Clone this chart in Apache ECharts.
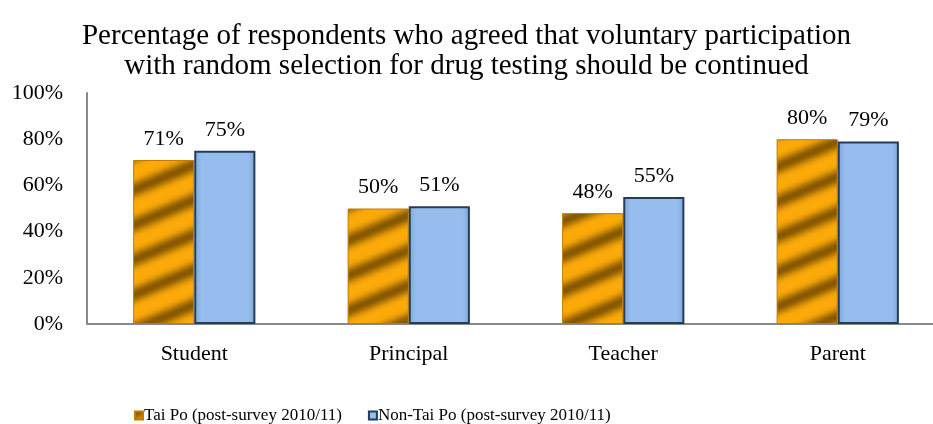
<!DOCTYPE html>
<html>
<head>
<meta charset="utf-8">
<script src="https://cdn.jsdelivr.net/npm/echarts@6/dist/echarts.min.js"></script>
<style>html,body{margin:0;padding:0;background:#fff}#c{width:933px;height:424px}</style>
</head>
<body>
<div id="c"></div>
<script>
const titleLines = ['Percentage of respondents who agreed that voluntary participation', 'with random selection for drug testing should be continued'];
const categories = ['Student', 'Principal', 'Teacher', 'Parent'];
const seriesNames = ['Tai Po (post-survey 2010/11)', 'Non-Tai Po (post-survey 2010/11)'];
const taiPo = [71, 50, 48, 80];
const nonTaiPo = [75, 51, 55, 79];
const yTicks = [0, 20, 40, 60, 80, 100];

function goldPattern() {
  const W = 84, H = 35;
  const cv = document.createElement('canvas');
  cv.width = W; cv.height = H;
  const ctx = cv.getContext('2d');
  const img = ctx.createImageData(W, H);
  const dark = [135, 88, 0], bright = [252, 170, 10];
  for (let y = 0; y < H; y++) {
    for (let x = 0; x < W; x++) {
      let t = ((y + (35 / 84) * x) % H) / H;
      let w = Math.pow((1 + Math.cos(2 * Math.PI * t)) / 2, 1.8);
      const i = (y * W + x) * 4;
      for (let k = 0; k < 3; k++) img.data[i + k] = Math.round(bright[k] * (1 - w) + dark[k] * w);
      img.data[i + 3] = 255;
    }
  }
  ctx.putImageData(img, 0, 0);
  return cv;
}

const font = 'Liberation Serif';
const chart = echarts.init(document.getElementById('c'));
chart.setOption({
  animation: false,
  backgroundColor: '#fff',
  title: {
    text: titleLines.join('\n'),
    left: 'center',
    top: 16,
    textStyle: { fontFamily: font, fontSize: 29, fontWeight: 'normal', color: '#000', lineHeight: 30 }
  },
  legend: {
    left: 129,
    top: 402,
    itemWidth: 8,
    itemHeight: 8,
    itemGap: 26,
    icon: 'rect',
    textStyle: { fontFamily: font, fontSize: 17, color: '#000', padding: [0, 0, 0, -4] },
    data: seriesNames
  },
  grid: { left: 87, right: -12, top: 93, bottom: 100, outerBoundsMode: 'none' },
  xAxis: {
    type: 'category',
    data: categories,
    axisLine: { lineStyle: { color: '#888', width: 2 } },
    axisTick: { show: false },
    axisLabel: { fontFamily: font, fontSize: 22, color: '#000', margin: 19 }
  },
  yAxis: {
    type: 'value',
    min: yTicks[0],
    max: yTicks[yTicks.length - 1],
    interval: 20,
    axisLine: { show: true, lineStyle: { color: '#888', width: 2 } },
    axisTick: { show: false },
    splitLine: { show: false },
    axisLabel: { fontFamily: font, fontSize: 22, color: '#000', margin: 24, formatter: v => v + '%' }
  },
  series: [
    {
      name: seriesNames[0],
      type: 'bar',
      data: taiPo,
      barGap: '0%',
      barCategoryGap: '43%',
      itemStyle: { color: { image: goldPattern(), repeat: 'repeat' }, borderColor: '#c07c00', borderWidth: 1 },
      label: { show: true, position: 'top', distance: 10, fontFamily: font, fontSize: 22, color: '#000', formatter: p => p.value + '%' }
    },
    {
      name: seriesNames[1],
      type: 'bar',
      data: nonTaiPo,
      itemStyle: {
        color: { type: 'linear', x: 0, y: 0, x2: 1, y2: 0, colorStops: [
          { offset: 0, color: '#7fa6d6' }, { offset: 0.12, color: '#96bdee' },
          { offset: 0.88, color: '#96bdee' }, { offset: 1, color: '#7fa6d6' }] },
        borderColor: '#243c5c', borderWidth: 2
      },
      label: { show: true, position: 'top', distance: 10, fontFamily: font, fontSize: 22, color: '#000', formatter: p => p.value + '%' }
    }
  ]
});
</script>
</body>
</html>
